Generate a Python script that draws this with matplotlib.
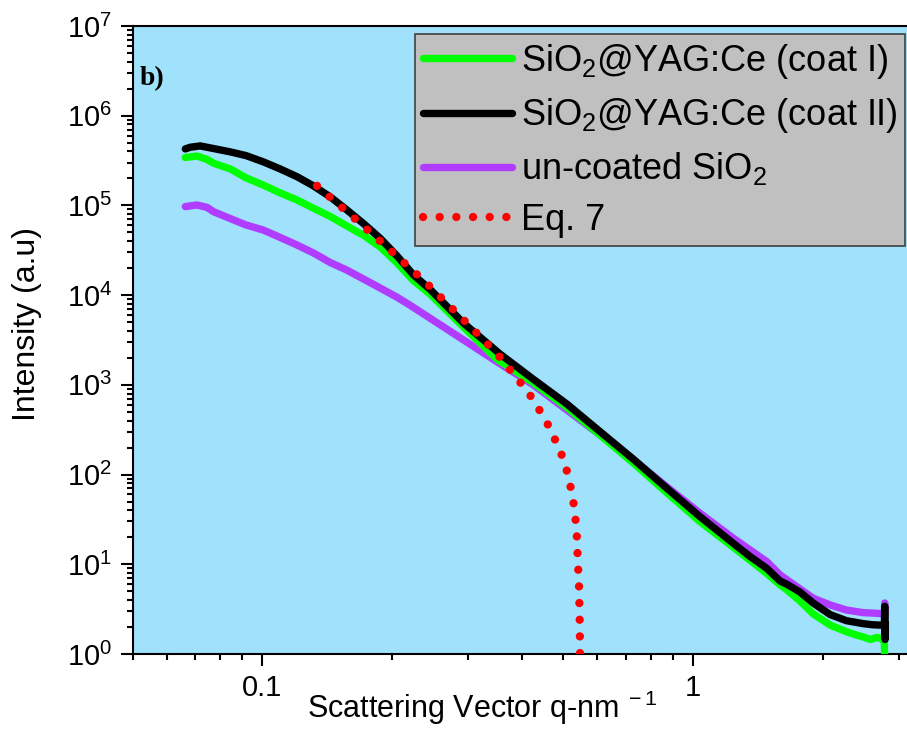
import matplotlib
matplotlib.use("Agg")
import matplotlib.pyplot as plt
from matplotlib.ticker import LogLocator, NullFormatter, FixedLocator
import numpy as np

plt.rcParams["font.family"] = ["Liberation Sans", "DejaVu Sans"]
plt.rcParams["mathtext.fontset"] = "custom"
plt.rcParams["mathtext.rm"] = "Liberation Sans"
plt.rcParams["mathtext.it"] = "Liberation Sans:italic"
plt.rcParams["mathtext.bf"] = "Liberation Sans:bold"

# SiO2@YAG:Ce (coat I) - 녹색
q_coat1 = [0.0663, 0.0706, 0.0745, 0.0771, 0.0843, 0.0917, 0.1007, 0.110, 0.1204,
           0.1315, 0.1440, 0.1572, 0.1723, 0.1878, 0.2053, 0.2244, 0.2456, 0.2934,
           0.3505, 0.4262, 0.5093, 0.6083, 0.7272, 0.869, 1.038, 1.24, 1.483,
           1.592, 1.65, 1.77, 1.90, 2.08, 2.27, 2.40, 2.48, 2.58, 2.67, 2.72,
           2.76, 2.78, 2.785]
i_coat1 = [3.42e5, 3.55e5, 3.25e5, 2.95e5, 2.55e5, 2.03e5, 1.68e5, 1.38e5, 1.15e5,
           9.3e4, 7.5e4, 5.9e4, 4.6e4, 3.45e4, 2.3e4, 1.45e4, 1.02e4, 4.4e3,
           1.93e3, 1.05e3, 560, 276, 134, 62.8, 29.8, 15.5, 7.9,
           5.9, 5.2, 3.9, 2.8, 2.1, 1.77, 1.62, 1.55, 1.45, 1.53, 1.5,
           1.45, 1.3, 0.8]

# SiO2@YAG:Ce (coat II) - 검정
q_coat2 = [0.0663, 0.0681, 0.0718, 0.0771, 0.0843, 0.0917, 0.1007, 0.110, 0.1204,
           0.1315, 0.1440, 0.1572, 0.1723, 0.1878, 0.2053, 0.2244, 0.2456, 0.2934,
           0.3566, 0.4262, 0.5093, 0.6083, 0.7272, 0.869, 1.038, 1.24, 1.356,
           1.483, 1.592, 1.65, 1.77, 1.90, 2.08, 2.27, 2.48, 2.60, 2.70, 2.78,
           2.785, 2.79, 2.795]
i_coat2 = [4.26e5, 4.45e5, 4.6e5, 4.3e5, 3.95e5, 3.59e5, 3.05e5, 2.55e5, 2.09e5,
           1.65e5, 1.24e5, 8.9e4, 6.2e4, 4.3e4, 2.75e4, 1.68e4, 1.15e4, 4.86e3,
           2.2e3, 1.15e3, 612, 301, 148, 70.3, 33.9, 17.1, 12.2,
           9.0, 6.5, 6.0, 4.9, 3.7, 2.75, 2.35, 2.18, 2.12, 2.1, 2.1,
           3.4, 1.45, 2.2]

# un-coated SiO2 - 보라
q_bare = [0.0663, 0.0706, 0.0745, 0.0771, 0.0917, 0.1007, 0.110, 0.1204, 0.1315,
          0.1440, 0.1572, 0.1723, 0.1878, 0.2053, 0.2205, 0.2456, 0.2934, 0.3505,
          0.4262, 0.5093, 0.6083, 0.7272, 0.869, 1.038, 1.24, 1.483, 1.592,
          1.90, 2.08, 2.27, 2.48, 2.67, 2.78, 2.785, 2.79]
i_bare = [9.7e4, 1.01e5, 9.5e4, 8.5e4, 6.05e4, 5.3e4, 4.4e4, 3.62e4, 2.95e4,
          2.3e4, 1.9e4, 1.5e4, 1.2e4, 9.5e3, 7.7e3, 5.5e3, 3.16e3, 1.81e3,
          997, 525, 276, 146, 73, 37, 19.5, 10.7, 7.6,
          4.18, 3.52, 3.09, 2.89, 2.84, 2.8, 3.7, 2.5]

# Eq. 7 모델 곡선
q_eq7 = [0.134, 0.163, 0.198, 0.2417, 0.292, 0.350, 0.392, 0.415, 0.436, 0.456,
         0.474, 0.492, 0.507, 0.518, 0.527, 0.533, 0.537, 0.539, 0.541, 0.5435,
         0.5445, 0.5455, 0.546, 0.5465, 0.547]
i_eq7 = [1.65e5, 7.3e4, 3.19e4, 1.33e4, 5.42e3, 2.25e3, 1.15e3, 818, 562, 395,
         269, 183, 120, 78.5, 51.2, 33.4, 21.8, 14.2, 9.25, 6.03,
         3.93, 2.56, 1.67, 1.09, 0.7]

labels = [r"SiO$_2$@YAG:Ce (coat I)", r"SiO$_2$@YAG:Ce (coat II)",
          r"un-coated SiO$_2$", "Eq. 7"]

fig = plt.figure(figsize=(9.07, 7.29), dpi=100)
ax = fig.add_axes([0.1461, 0.1029, 0.858, 0.8615])
ax.set_facecolor("#a0e2fb")

lw = 5.3
l_bare, = ax.plot(q_bare, i_bare, color="#b03cff", lw=lw, solid_capstyle="round",
                  solid_joinstyle="round", zorder=2)
l_c1, = ax.plot(q_coat1, i_coat1, color="#00ff00", lw=lw, solid_capstyle="round",
                solid_joinstyle="round", zorder=3)
l_c2, = ax.plot(q_coat2, i_coat2, color="black", lw=lw, solid_capstyle="round",
                solid_joinstyle="round", zorder=4)
l_eq, = ax.plot(q_eq7, i_eq7, color="red", lw=6, dashes=(0.001, 2.0),
                dash_capstyle="round", zorder=5)

ax.set_xscale("log")
ax.set_yscale("log")
ax.set_xlim(0.05, 3.2)
ax.set_ylim(1, 1e7)

ax.xaxis.set_major_locator(FixedLocator([0.1, 1]))
ax.set_xticklabels(["0.1", "1"])
ax.xaxis.set_minor_locator(LogLocator(base=10, subs=np.arange(2, 10)))
ax.xaxis.set_minor_formatter(NullFormatter())
ax.yaxis.set_major_locator(LogLocator(base=10, numticks=10))
ax.yaxis.set_minor_locator(LogLocator(base=10, subs=np.arange(2, 10), numticks=20))
ax.yaxis.set_minor_formatter(NullFormatter())

ax.tick_params(which="major", direction="out", length=8.5, width=1.5,
               labelsize=21, pad=6)
ax.tick_params(which="minor", direction="out", length=4.3, width=1.5)
ax.tick_params(top=False, right=False)
for s in ["left", "bottom", "top"]:
    ax.spines[s].set_linewidth(1.5)
ax.spines["right"].set_visible(False)

ax.set_xlabel(r"Scattering Vector q-nm$^{\ -1}$", fontsize=22)
ax.set_ylabel("Intensity (a.u)", fontsize=23)
ax.xaxis.set_label_coords(0.45, -0.056)
ax.yaxis.set_label_coords(-0.116, 0.525)

ax.text(0.0096, 0.906, "b)", transform=ax.transAxes, fontsize=20,
        fontweight="bold", family="Liberation Serif", va="baseline")

leg = ax.legend([l_c1, l_c2, l_bare, l_eq], labels, loc="upper right",
                bbox_to_anchor=(0.9927, 0.987), borderaxespad=0, fontsize=26,
                fancybox=False, framealpha=1, facecolor="#c0c0c0",
                edgecolor="#404040", handlelength=2.45, handletextpad=0.25,
                labelspacing=0.42, borderpad=0.22)
leg.get_frame().set_linewidth(1.2)

fig.savefig("out.png", dpi=100)
